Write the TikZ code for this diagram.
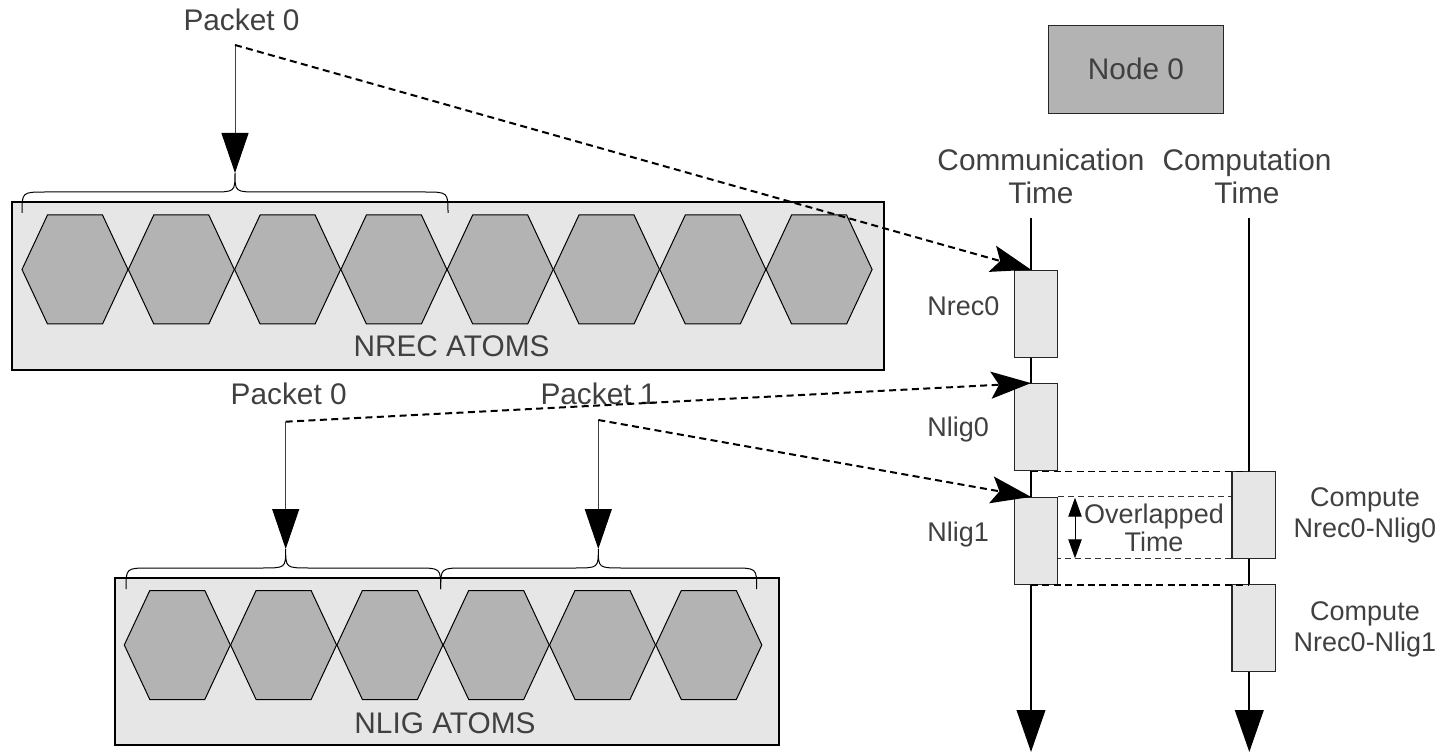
\documentclass[tikz,border=0pt]{standalone}
\usepackage{fontspec}
\setmainfont{Liberation Sans}
\usetikzlibrary{arrows.meta,calc}

\definecolor{txt}{HTML}{404040}
\definecolor{boxfill}{HTML}{E6E6E6}
\definecolor{hexfill}{HTML}{B3B3B3}

% curly brace over a group of atoms: left x, right x, foot y, tip x
\newcommand{\atombrace}[4]{%
  \draw[brace] (#1,#3) .. controls (#1,{#3-21}) .. ({#1+24},{#3-21})
    -- ({#4-24},{#3-21}) .. controls (#4,{#3-21}) .. (#4,{#3-40})
    .. controls (#4,{#3-21}) .. ({#4+24},{#3-21})
    -- ({#2-24},{#3-21}) .. controls (#2,{#3-21}) .. (#2,#3);}

\begin{document}
\begin{tikzpicture}[x=0.5pt,y=-0.5pt,
  big/.style={text=txt,font=\fontsize{14.9}{16.5}\selectfont,inner sep=0pt},
  small/.style={text=txt,font=\fontsize{13.5}{15.5}\selectfont,inner sep=0pt},
  panel/.style={draw=black,fill=boxfill,line width=0.7pt},
  hexcell/.style={draw=black,fill=hexfill,line width=0.5pt},
  slot/.style={draw=black!85,fill=boxfill,line width=0.6pt,
    minimum width=21.6pt,minimum height=43.5pt,inner sep=0pt},
  brace/.style={draw=black,line width=0.5pt},
  feed/.style={draw=black!75,line width=0.5pt,
    -{Triangle[length=20pt,width=13.5pt,fill=black,color=black]}},
  msg/.style={draw=black,line width=1pt,dash pattern=on 3.5pt off 2.2pt,
    -{Stealth[length=20pt,width=13.5pt,inset=4pt]}},
  span/.style={draw=black,line width=0.8pt,dash pattern=on 3.5pt off 2.2pt},
  fine/.style={draw=black!80,line width=0.45pt,dash pattern=on 3pt off 2pt},
  timeline/.style={draw=black,line width=1pt,
    -{Triangle[length=21pt,width=14.3pt]}},
  overlap/.style={draw=black,line width=0.5pt,
    {Triangle[length=9.5pt,width=6.7pt]}-{Triangle[length=9.5pt,width=6.7pt]}}
]
\useasboundingbox (0,0) rectangle (1441,754);

% ---- NREC atoms panel ----
\node[panel,minimum width=436pt,minimum height=84pt,inner sep=0pt]
  (nrecpanel) at (448,286) {};
\foreach \i in {0,...,7}
  \path[hexcell] ({22+106.3*\i},269.5) -- ++(25.5,-54.5) -- ++(55,0)
    -- ++(25.5,54.5) -- ++(-25.5,54.5) -- ++(-55,0) -- cycle;
\node[big,anchor=base] (nreclbl) at (451.5,357) {NREC ATOMS};
\atombrace{22}{448}{213}{235}

% ---- NLIG atoms panel ----
\node[panel,minimum width=332pt,minimum height=83.5pt,inner sep=0pt]
  (nligpanel) at (447,661.5) {};
\foreach \i in {0,...,5}
  \path[hexcell] ({124.3+106.3*\i},645) -- ++(25.5,-54.5) -- ++(55,0)
    -- ++(25.5,54.5) -- ++(-25.5,54.5) -- ++(-55,0) -- cycle;
\node[big,anchor=base] (nliglbl) at (445,733.3) {NLIG ATOMS};
\atombrace{126}{440.7}{589}{285.7}
\atombrace{440.7}{756.7}{589}{598.3}

% ---- packet labels and feed arrows ----
\node[big,anchor=base] (pkt0) at (241.5,31) {Packet 0};
\node[big,anchor=base] (pkt0b) at (288.7,404.3) {Packet 0};
\node[big,anchor=base] (pkt1b) at (598.5,404.3) {Packet 1};
\coordinate (src0) at (235,45);
\coordinate (tip0) at (235,173);
\coordinate (src1) at (285.7,421.7);
\coordinate (tip1) at (285.7,549);
\coordinate (src2) at (598.3,420);
\coordinate (tip2) at (598.3,549);
\draw[feed] (src0) -- (tip0);
\draw[feed] (src1) -- (tip1);
\draw[feed] (src2) -- (tip2);

% ---- node header ----
\node[draw=black!85,fill=hexfill,line width=0.6pt,minimum width=87.5pt,
  minimum height=43.8pt,inner sep=0pt] (node0) at (1135.8,69.5) {};
\node[big,anchor=base] (node0lbl) at (1136,80) {Node 0};
\node[big,anchor=base,align=center] (commhead) at (1041,203.3)
  {Communication\\Time};
\node[big,anchor=base,align=center] (comphead) at (1247,203.3)
  {Computation\\Time};

% ---- time lines ----
\coordinate (commtop) at (1031,218);
\coordinate (commend) at (1031,752);
\coordinate (comptop) at (1249.3,218);
\coordinate (compend) at (1249.3,752);
\draw[timeline] (commtop) -- (commend);
\draw[timeline] (comptop) -- (compend);

% ---- communication slots ----
\node[slot] (nrec) at (1035.8,313.8) {};
\node[slot] (nlig0) at (1035.8,427.2) {};
\node[slot] (nlig1) at (1035.8,541) {};
\node[small,anchor=base west] (nreclab) at (927,315) {Nrec0};
\node[small,anchor=base west] (nlig0lab) at (927,436.7) {Nlig0};
\node[small,anchor=base west] (nlig1lab) at (927,541.7) {Nlig1};

% ---- computation slots ----
\node[slot] (comp0) at (1253.5,514.7) {};
\node[slot] (comp1) at (1253.5,628) {};
\node[small,anchor=base,align=center] (comp0lab) at (1365,537.7)
  {Compute\\Nrec0-Nlig0};
\node[small,anchor=base,align=center] (comp1lab) at (1365,651.7)
  {Compute\\Nrec0-Nlig1};

% ---- overlap markers ----
\draw[span] (commtop |- nlig0.south) -- (comptop |- nlig0.south);
\draw[span] (commtop |- nlig1.south) -- (comptop |- nlig1.south);
\draw[fine] (nlig1.north east) -- (nlig1.north east -| comp0.west);
\draw[fine] (comp0.south west) -- (comp0.south west -| nlig1.east);
\draw[overlap] (1075,497.7) -- (1075,558.3);
\node[small,anchor=base,align=center,font=\fontsize{13.5}{14.2}\selectfont]
  (ovlab) at (1154,551.7) {Overlapped\\Time};

% ---- packet transfers ----
\draw[msg] (src0) -- (commtop |- nrec.north);
\draw[msg] (src1) -- (commtop |- nlig0.north);
\draw[msg] (src2) -- (commtop |- nlig1.north);
\end{tikzpicture}
\end{document}
